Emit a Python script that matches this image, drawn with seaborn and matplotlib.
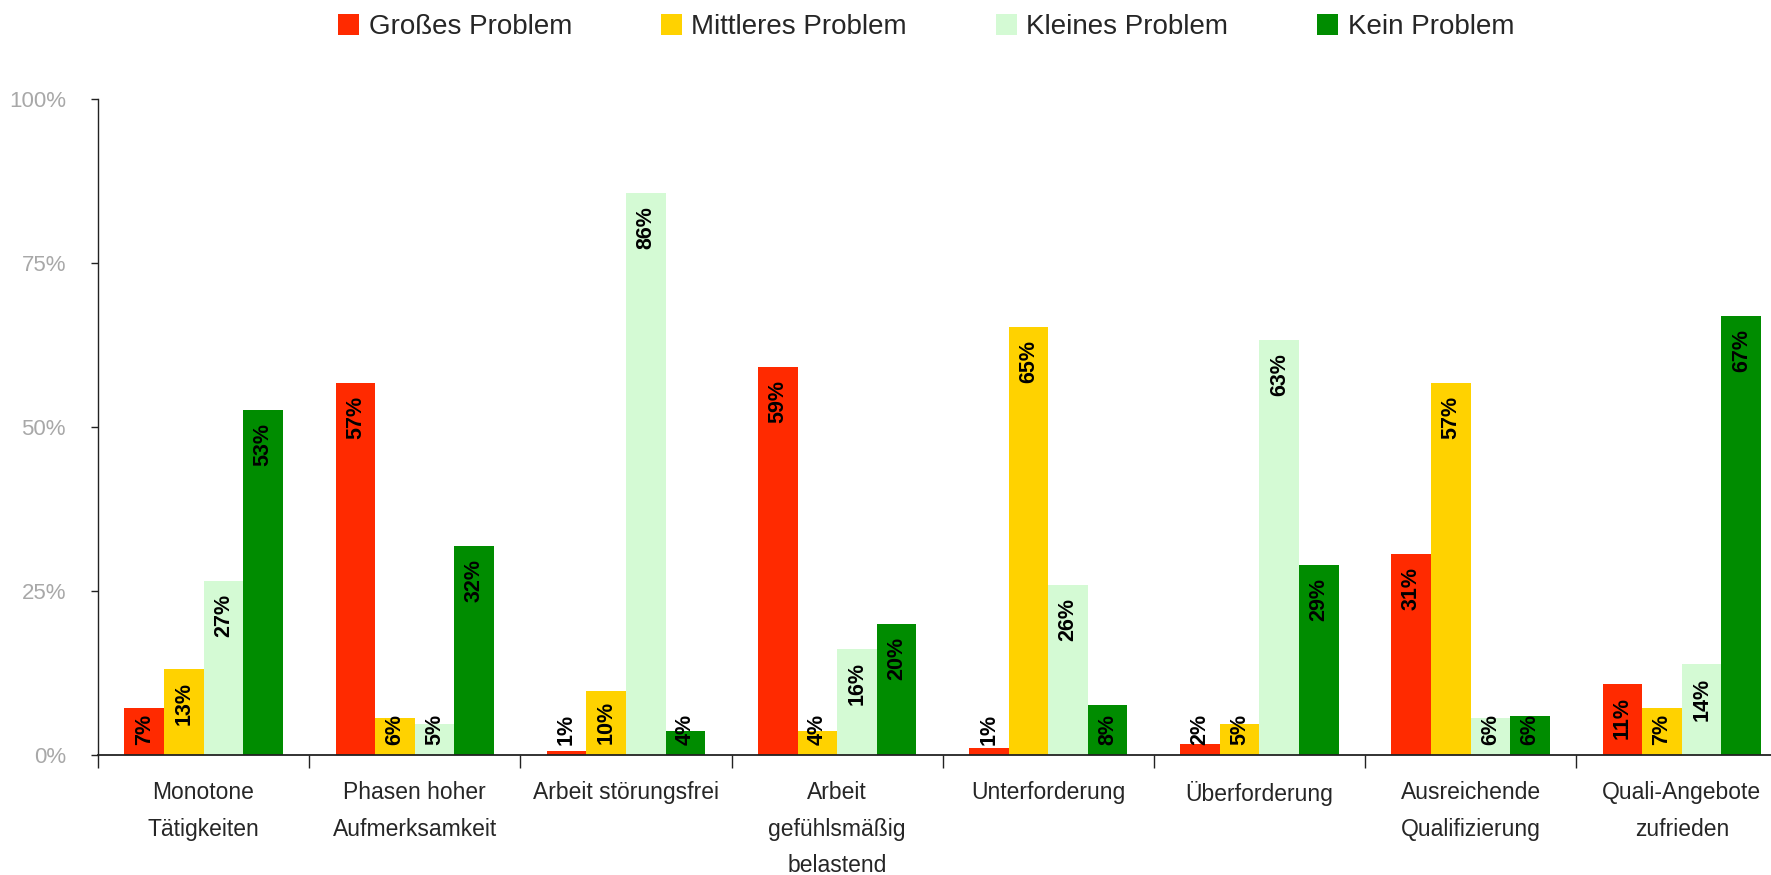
import matplotlib
matplotlib.use("Agg")
import matplotlib.pyplot as plt
import seaborn as sns
import pandas as pd
from matplotlib.patches import Patch
from matplotlib import font_manager

# ---- data ----
categories = ["Monotone\nTätigkeiten", "Phasen hoher\nAufmerksamkeit", "Arbeit störungsfrei",
              "Arbeit\ngefühlsmäßig\nbelastend", "Unterforderung", "Überforderung",
              "Ausreichende\nQualifizierung", "Quali-Angebote\nzufrieden"]
series = ["Großes Problem", "Mittleres Problem", "Kleines Problem", "Kein Problem"]
gross = [7.2, 56.7, 0.6, 59.1, 1.0, 1.7, 30.7, 10.9]
mittel = [13.1, 5.6, 9.7, 3.6, 65.2, 4.8, 56.7, 7.2]
klein = [26.6, 4.8, 85.7, 16.2, 25.9, 63.3, 5.6, 13.8]
kein = [52.6, 31.9, 3.6, 20.0, 7.6, 29.0, 6.0, 66.9]
yticks = [0, 25, 50, 75, 100]
ytick_labels = ["0%", "25%", "50%", "75%", "100%"]
colors = ["#FF2A00", "#FFD200", "#D4FAD4", "#008C00"]

sns.set_theme(style="white")
plt.rcParams["font.family"] = ["Liberation Sans", "DejaVu Sans"]

def has_font(name):
    try:
        font_manager.findfont(name, fallback_to_default=False)
        return True
    except Exception:
        return False

label_font = "Liberation Sans Narrow" if has_font("Liberation Sans Narrow") else "Liberation Sans"
label_size = 18.5 if label_font == "Liberation Sans Narrow" else 15.5

rows = []
for s, vals in zip(series, [gross, mittel, klein, kein]):
    for c, v in zip(categories, vals):
        rows.append({"cat": c, "series": s, "value": v})
df = pd.DataFrame(rows)

fig = plt.figure(figsize=(17.71, 8.75), dpi=100)
ax = fig.add_axes([0.0553, 0.1371, 0.954, 0.7498])

sns.barplot(data=df, x="cat", y="value", hue="series", order=categories, hue_order=series,
            palette=colors, width=0.75, gap=0, saturation=1, legend=False, ax=ax,
            edgecolor="none", linewidth=0)

ax.set_xlim(-0.5, len(categories) - 0.5)
ax.set_ylim(0, 100)
ax.set_xlabel("")
ax.set_ylabel("")

# data labels (read bottom-to-top, placed inside the bar end)
for cont in ax.containers:
    for bar in cont:
        h = bar.get_height()
        txt = f"{h:.0f}%"
        L = 4.9 if len(txt) == 2 else 6.8
        y = max(h - 2.0, 1.4 + L)
        ax.text(bar.get_x() + bar.get_width() / 2, y, txt, rotation=90,
                ha="center", va="top", fontsize=label_size, fontweight="bold",
                family=[label_font, "DejaVu Sans"], color="black")

# spines
for sp in ["top", "right"]:
    ax.spines[sp].set_visible(False)
ax.spines["left"].set_color("#222222")
ax.spines["left"].set_linewidth(1.0)
ax.spines["bottom"].set_color("#222222")
ax.spines["bottom"].set_linewidth(1.3)

# y axis
ax.set_yticks(yticks)
ax.set_yticklabels(ytick_labels)
ax.tick_params(axis="y", which="major", direction="out", length=5, width=1, color="#222222",
               pad=18, labelsize=16, labelcolor="#A8A8A8", left=True)

# x axis: boundary ticks + centered labels
ax.set_xticks([i - 0.5 for i in range(len(categories) + 1)])
ax.set_xticklabels([""] * (len(categories) + 1))
ax.set_xticks(list(range(len(categories))), minor=True)
ax.set_xticklabels(categories, minor=True, fontsize=16.5, linespacing=1.75)
ax.tick_params(axis="x", which="major", direction="out", length=9, width=1, color="#222222", bottom=True)
ax.tick_params(axis="x", which="minor", length=0, pad=19, bottom=True)
ax.grid(False)

# legend
handles = [Patch(facecolor=c, edgecolor="none") for c in colors]
fig.legend(handles, series, loc="center", bbox_to_anchor=(0.523, 0.969), ncol=4, frameon=False,
           fontsize=20, handlelength=0.75, handleheight=0.8, handletextpad=0.35,
           columnspacing=3.2)

fig.savefig("out.png", dpi=100)
